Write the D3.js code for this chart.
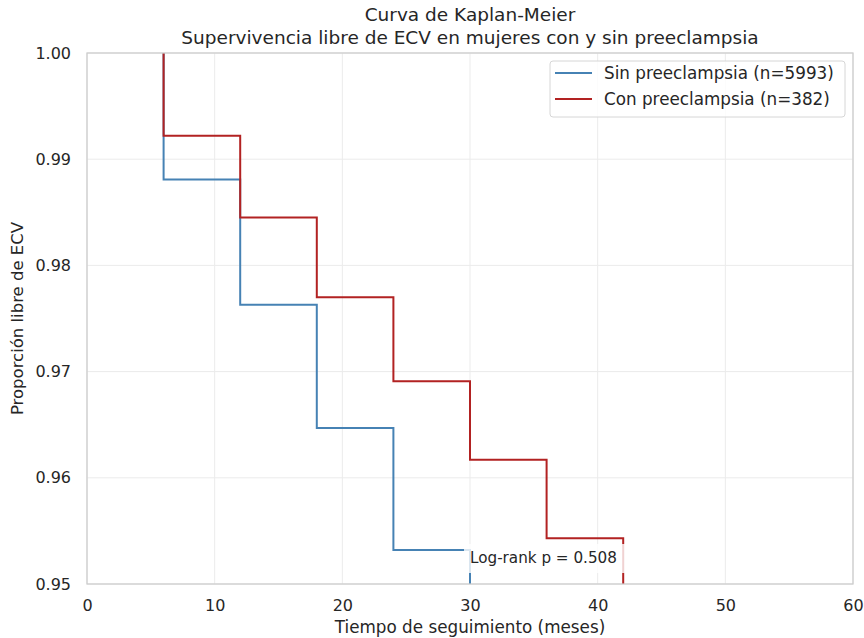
<!DOCTYPE html>
<html>
<head>
<meta charset="utf-8">
<script src="https://cdn.jsdelivr.net/npm/d3@7"></script>
<style>
  body { margin: 0; background: #fff; }
  text { font-family: "DejaVu Sans", sans-serif; fill: #262626; }
</style>
</head>
<body>
<div id="chart"></div>
<script>
// tiempos de evento (meses) y supervivencia estimada
const tiemposSin = [6, 6, 12, 18, 24, 30];
const survSin = [1.0, 0.9881, 0.9763, 0.9647, 0.9532, 0.9414];
const tiemposCon = [6, 6, 12, 18, 24, 30, 36, 42];
const survCon = [1.0, 0.9922, 0.9845, 0.9770, 0.9691, 0.9617, 0.9543, 0.9466];

const xTicks = [0, 10, 20, 30, 40, 50, 60];
const yTicks = [0.95, 0.96, 0.97, 0.98, 0.99, 1.00];

const series = [
    { nombre: "Sin preeclampsia (n=5993)", t: tiemposSin, s: survSin, color: "#4682b4" },
    { nombre: "Con preeclampsia (n=382)", t: tiemposCon, s: survCon, color: "#b22222" }
];

const width = 864, height = 638;
const margin = { top: 53, right: 11, bottom: 54, left: 87 };

const svg = d3.select("#chart").append("svg")
    .attr("width", width)
    .attr("height", height);

const x = d3.scaleLinear().domain([0, 60]).range([margin.left, width - margin.right]);
const y = d3.scaleLinear().domain([0.95, 1.0]).range([height - margin.bottom, margin.top]);

// rejilla
svg.append("g")
    .selectAll("line.vx")
    .data(xTicks)
    .enter().append("line")
    .attr("x1", d => x(d)).attr("x2", d => x(d))
    .attr("y1", y(0.95)).attr("y2", y(1.0))
    .attr("stroke", "#ebebeb").attr("stroke-width", 1);

svg.append("g")
    .selectAll("line.hy")
    .data(yTicks)
    .enter().append("line")
    .attr("x1", x(0)).attr("x2", x(60))
    .attr("y1", d => y(d)).attr("y2", d => y(d))
    .attr("stroke", "#ebebeb").attr("stroke-width", 1);

// ejes (solo etiquetas)
const xAxis = svg.append("g")
    .attr("transform", `translate(0,${y(0.95)})`)
    .call(d3.axisBottom(x).tickValues(xTicks).tickSize(0).tickPadding(15).tickFormat(d3.format("d")));
const yAxis = svg.append("g")
    .attr("transform", `translate(${x(0)},0)`)
    .call(d3.axisLeft(y).tickValues(yTicks).tickSize(0).tickPadding(16).tickFormat(d3.format(".2f")));
[xAxis, yAxis].forEach(a => {
    a.select(".domain").remove();
    a.selectAll("text").style("font-size", "16px").attr("fill", "#262626");
});
xAxis.selectAll("text").attr("dy", null).attr("y", 27);

// curvas
svg.append("clipPath").attr("id", "clip")
    .append("rect")
    .attr("x", x(0)).attr("y", y(1.0) - 2)
    .attr("width", x(60) - x(0)).attr("height", y(0.95) - y(1.0) + 2);

const line = d3.line()
    .x(d => x(d[0]))
    .y(d => y(d[1]))
    .curve(d3.curveStepAfter);

svg.append("g")
    .attr("clip-path", "url(#clip)")
    .selectAll("path")
    .data(series)
    .enter().append("path")
    .attr("d", d => line(d.t.map((t, i) => [t, d.s[i]])))
    .attr("fill", "none")
    .attr("stroke", d => d.color)
    .attr("stroke-width", 2);

// marco
svg.append("rect")
    .attr("x", x(0)).attr("y", y(1.0))
    .attr("width", x(60) - x(0)).attr("height", y(0.95) - y(1.0))
    .attr("fill", "none")
    .attr("stroke", "#cccccc").attr("stroke-width", 1.25);

// texto log-rank
const pText = svg.append("g");
pText.append("rect")
    .attr("x", x(30) - 6).attr("y", 544)
    .attr("width", 162).attr("height", 29)
    .attr("fill", "#fff").attr("fill-opacity", 0.8);
pText.append("text")
    .attr("x", x(30)).attr("y", 563)
    .style("font-size", "15.2px")
    .text("Log-rank p = 0.508");

// leyenda
const leg = svg.append("g");
leg.append("rect")
    .attr("x", 550).attr("y", 61)
    .attr("width", 295).attr("height", 56)
    .attr("rx", 3)
    .attr("fill", "#fff").attr("fill-opacity", 0.8)
    .attr("stroke", "#d6d6d6").attr("stroke-width", 1);
series.forEach((s, i) => {
    const yy = 73 + i * 26;
    leg.append("line")
        .attr("x1", 555).attr("x2", 592)
        .attr("y1", yy).attr("y2", yy)
        .attr("stroke", s.color).attr("stroke-width", 2);
    leg.append("text")
        .attr("x", 604).attr("y", yy + 6)
        .style("font-size", "16.8px")
        .text(s.nombre);
});

// títulos
svg.append("text")
    .attr("x", x(30)).attr("y", 21)
    .attr("text-anchor", "middle")
    .style("font-size", "18.5px")
    .text("Curva de Kaplan-Meier");
svg.append("text")
    .attr("x", x(30)).attr("y", 44)
    .attr("text-anchor", "middle")
    .style("font-size", "18.5px")
    .text("Supervivencia libre de ECV en mujeres con y sin preeclampsia");

svg.append("text")
    .attr("x", x(30)).attr("y", 633)
    .attr("text-anchor", "middle")
    .style("font-size", "16.8px")
    .text("Tiempo de seguimiento (meses)");

svg.append("text")
    .attr("transform", `translate(23,${(y(1.0) + y(0.95)) / 2}) rotate(-90)`)
    .attr("text-anchor", "middle")
    .style("font-size", "16.5px")
    .text("Proporción libre de ECV");
</script>
</body>
</html>
